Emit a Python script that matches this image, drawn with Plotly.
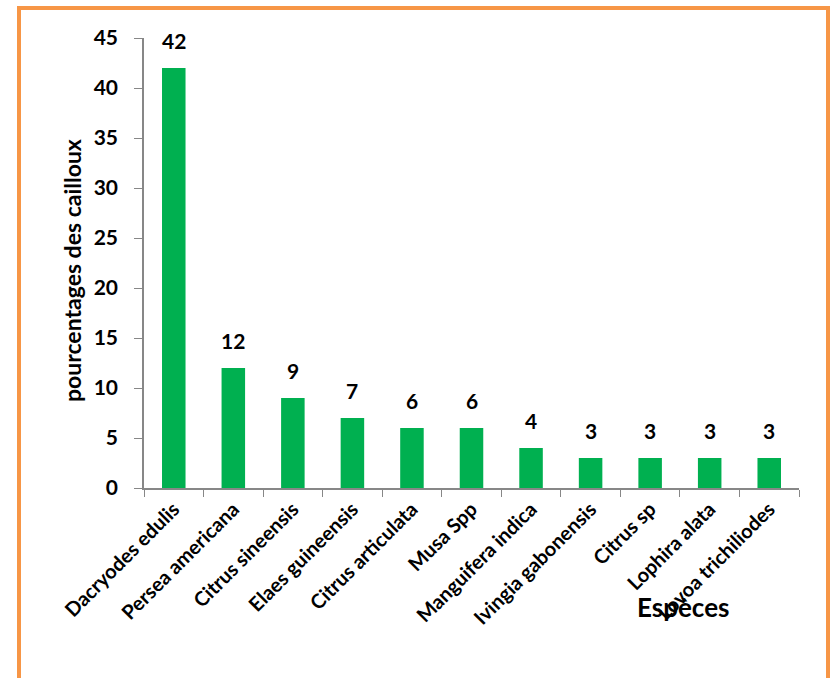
import plotly.graph_objects as go

# Species and stone percentages
especes = [
    "Dacryodes edulis", "Persea americana", "Citrus sineensis",
    "Elaes guineensis", "Citrus articulata", "Musa Spp",
    "Manguifera indica", "Ivingia gabonensis", "Citrus sp",
    "Lophira alata", "Lovoa trichiliodes",
]
pourcentages = [42, 12, 9, 7, 6, 6, 4, 3, 3, 3, 3]
y_ticks = [0, 5, 10, 15, 20, 25, 30, 35, 40, 45]

GREEN = "#00B050"
AXIS = "#878787"
ORANGE = "#F79646"
FONT = "Lato"

W, H = 830, 678
ML, MR, MT, MB = 144, 31, 38, 190
PW, PH = W - ML - MR, H - MT - MB


def px_x(x):
    return (x - ML) / PW


def px_y(y):
    return (H - MB - y) / PH


fig = go.Figure(
    go.Bar(
        x=especes,
        y=pourcentages,
        marker=dict(color=GREEN, line=dict(width=0)),
        hoverinfo="x+y",
    )
)

# value labels above each bar
for esp, val in zip(especes, pourcentages):
    fig.add_annotation(
        x=esp, y=val, text=str(val), showarrow=False,
        yanchor="bottom", yshift=13,
        font=dict(family=FONT, size=21, color="black", weight="bold"),
    )

fig.add_annotation(
    x=px_x(72), y=px_y(271), xref="paper", yref="paper",
    text="pourcentages des cailloux", textangle=-90, showarrow=False,
    xanchor="center", yanchor="middle",
    font=dict(family=FONT, size=23, color="black", weight="bold"),
)
fig.add_annotation(
    x=px_x(683), y=px_y(607), xref="paper", yref="paper",
    text="Espèces", showarrow=False,
    xanchor="center", yanchor="middle",
    font=dict(family=FONT, size=26, color="black", weight="bold"),
)

# orange frame around the chart
fig.add_shape(
    type="rect", xref="paper", yref="paper",
    x0=px_x(19), x1=px_x(828), y0=px_y(720), y1=px_y(8),
    line=dict(color=ORANGE, width=4), fillcolor="rgba(0,0,0,0)",
    layer="below",
)

fig.update_layout(
    width=W, height=H,
    margin=dict(l=ML, r=MR, t=MT, b=MB),
    paper_bgcolor="white", plot_bgcolor="white",
    showlegend=False, bargap=0.605,
    font=dict(family=FONT, color="black"),
    xaxis=dict(
        type="category", tickson="boundaries", ticks="outside",
        ticklen=7, tickcolor=AXIS, showline=True, linecolor=AXIS,
        linewidth=1.5, tickangle=-45, showgrid=False,
        tickfont=dict(family=FONT, size=20, color="black", weight="bold"),
    ),
    yaxis=dict(
        range=[0, 45], tickvals=y_ticks, ticks="outside", ticklen=8,
        tickcolor=AXIS, showline=True, linecolor=AXIS, linewidth=1.5,
        showgrid=False, zeroline=False, ticklabelstandoff=12,
        tickfont=dict(family=FONT, size=21, color="black", weight="bold"),
    ),
)

fig.write_html("out.html")
